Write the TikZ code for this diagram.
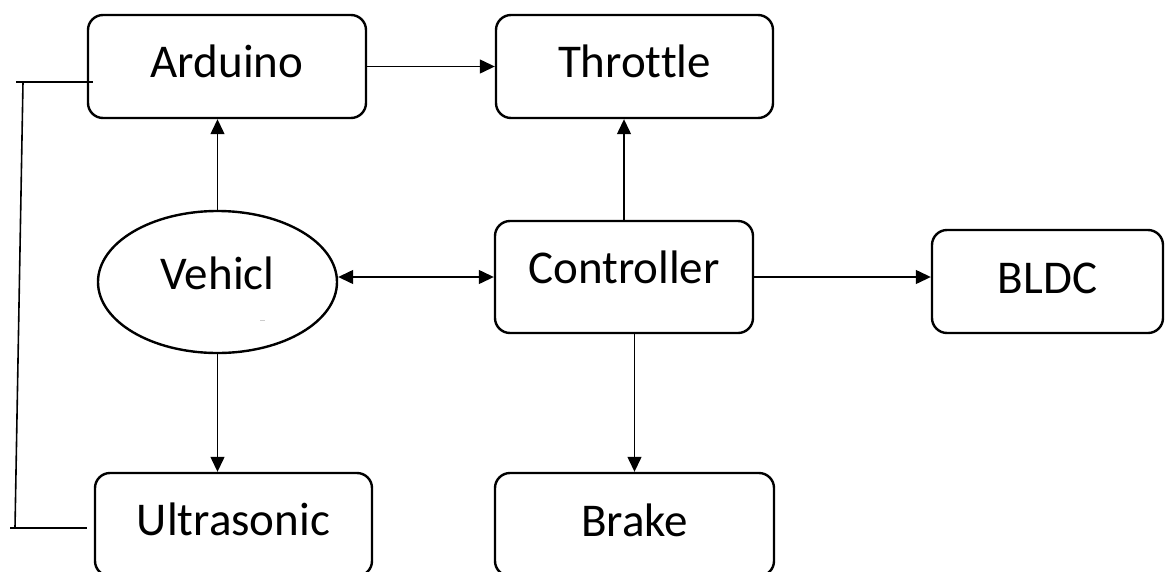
\documentclass[tikz,border=0pt]{standalone}
\usepackage{fontspec}
\setmainfont{Carlito}[RawFeature={-liga;-clig;-dlig}]
\usetikzlibrary{arrows.meta,shapes.geometric}
\tikzset{
  box/.style={draw=black, line width=2.4pt, rounded corners=15pt, inner sep=0pt,
    font=\fontsize{47}{56}\selectfont, text height=30pt, text depth=9pt},
  oval/.style={draw=black, line width=2.4pt, ellipse, inner sep=0pt,
    font=\fontsize{47}{56}\selectfont, text height=30pt},
  conn/.style={line width=1.3pt, -{Triangle[length=15pt,width=14pt]}},
  biconn/.style={line width=1.3pt, {Triangle[length=15pt,width=14pt]}-{Triangle[length=15pt,width=14pt]}},
  wire/.style={line width=1.6pt}
}
\begin{document}
\begin{tikzpicture}[x=1pt,y=-1pt]
\useasboundingbox (0,0) rectangle (1165,571);
\clip (0,0) rectangle (1165,571);
\fill[white] (0,0) rectangle (1165,571);
\node[box, minimum width=278pt, minimum height=103pt] (ard) at (227,66.5) {Arduino};
\node[box, minimum width=277pt, minimum height=103pt] (thr) at (634.5,66.5) {Throttle};
\node[oval, minimum width=239pt, minimum height=142pt, text depth=16pt] (veh) at (217.5,282) {Vehicl};
\node[box, minimum width=258pt, minimum height=112pt, text depth=18pt] (ctl) at (624,277) {Controller};
\node[box, minimum width=231pt, minimum height=103pt, text depth=7pt] (bldc) at (1047.5,281.5) {BLDC};
\node[box, minimum width=277pt, minimum height=103pt, text depth=8pt] (ult) at (233.5,524.5) {Ultrasonic};
\node[box, minimum width=279pt, minimum height=103pt, text depth=6pt] (brk) at (634.5,524.5) {Brake};

\draw[conn] (ard.east) -- (thr.west);
\draw[conn] (veh.north) -- (veh.north |- ard.south);
\draw[conn] (veh.south) -- (veh.south |- ult.north);
\draw[biconn] (veh.east |- ctl.west) -- (ctl.west);
\draw[conn] (ctl.north) -- (ctl.north |- thr.south);
\draw[conn] (brk.north |- ctl.south) -- (brk.north);
\draw[conn] (ctl.east) -- (ctl.east -| bldc.west);

% left bracket
\coordinate (a0) at (16,82);
\coordinate (a1) at ([xshift=6pt]ard.west |- a0);
\coordinate (v0) at (23,82);
\coordinate (v1) at (15,528);
\coordinate (u0) at (10,528);
\coordinate (u1) at (87,528);
\draw[wire] (a0) -- (a1);
\draw[wire] (v0) -- (v1);
\draw[wire] (u0) -- (u1);
% faint mark inside ellipse
\draw[gray!40, line width=0.8pt] (260,320) -- (265,320);
\end{tikzpicture}
\end{document}
